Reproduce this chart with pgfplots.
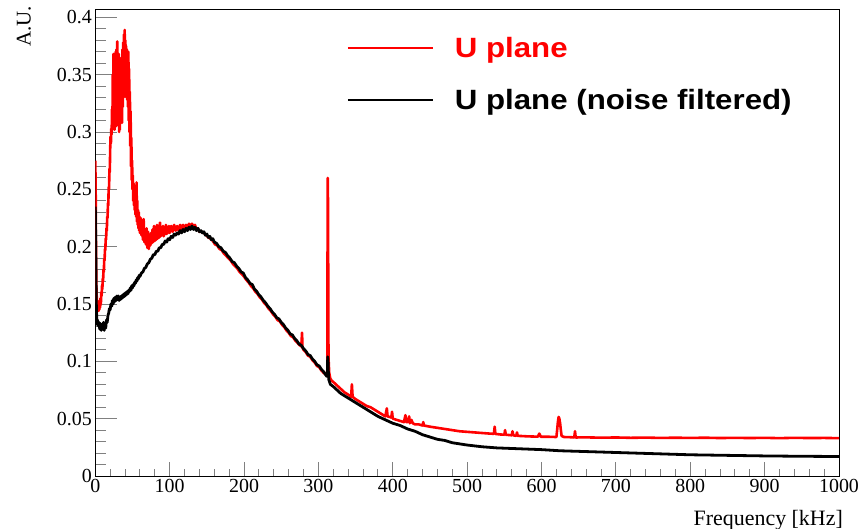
\documentclass[border=0pt]{standalone}
\usepackage{fontspec}
\setmainfont{Liberation Serif}
\newfontfamily\legfont[FakeStretch=1.12]{Liberation Sans}
\usepackage{pgfplots}
\pgfplotsset{compat=1.18}
\begin{document}
\begin{tikzpicture}
\begin{axis}[
  scale only axis, width=743.7bp, height=466.7bp,
  xmin=0, xmax=1000, ymin=0, ymax=0.407,
  axis line style={line width=1bp},
  xtick distance=100, ytick distance=0.05,
  minor x tick num=4, minor y tick num=4,
  tick align=inside, xtick pos=bottom, ytick pos=left,
  xtick style={line width=0.9bp, /pgfplots/major tick length=14bp, /pgfplots/minor tick length=7bp},
  ytick style={line width=0.9bp, /pgfplots/major tick length=22bp, /pgfplots/minor tick length=11bp},
  /pgf/number format/assume math mode=true,
  /pgf/number format/set thousands separator={},
  scaled y ticks=false,
  yticklabel style={/pgf/number format/fixed, /pgf/number format/precision=2, font=\rmfamily\fontsize{20}{24}\selectfont},
  xticklabel style={font=\rmfamily\fontsize{20}{24}\selectfont},
  xlabel={Frequency [kHz]},
  xlabel style={at={(axis description cs:1.0054,-0.1071)}, anchor=base east, inner sep=0pt, font=\rmfamily\fontsize{22}{26}\selectfont},
  ylabel={A.U.},
  ylabel style={at={(axis description cs:-0.0959,1.007)}, anchor=east, inner sep=0pt, font=\rmfamily\fontsize{21}{25}\selectfont},
  legend style={at={(axis description cs:0.338,0.9407)}, anchor=north west, draw=none, fill=none, inner sep=0pt, outer sep=0pt,
    font=\legfont\bfseries\fontsize{28}{32}\selectfont, row sep=30.5bp, /tikz/column sep=21bp, nodes={inner sep=0pt}},
  legend image code/.code={\draw[#1, line width=2.2bp] (0bp,0bp) -- (85bp,0bp);},
  legend cell align=left,
]
\coordinate (bl) at (rel axis cs:0,0);
\coordinate (tr) at (rel axis cs:1,1);
% red: U plane
\addplot[red, line width=2.6bp, line join=round] coordinates {
(0,0.275) (0.5,0.25) (1,0.19) (1.5,0.165) (2,0.155) (2.5,0.150) (3,0.153) (3.5,0.146) (4,0.150) (4.5,0.144)
(5,0.149) (5.5,0.145) (6,0.152) (6.5,0.147) (7,0.155) (7.5,0.150) (8,0.160) (8.5,0.157) (9,0.166) (9.5,0.163)
(10,0.172) (10.5,0.170) (11,0.180) (11.5,0.178) (12,0.189) (12.5,0.188) (13,0.198) (13.5,0.197) (14,0.207) (14.5,0.206)
(15,0.216) (15.5,0.214) (16,0.226) (16.5,0.225) (17,0.238) (17.5,0.236) (18,0.252) (18.5,0.250) (19,0.268) (19.5,0.265)
(20,0.285) (20.5,0.296) (21,0.290) (21.5,0.303) (22,0.298) (22.5,0.320) (23,0.305) (23.5,0.350) (24,0.315) (24.5,0.368)
(25,0.310) (25.5,0.355) (26,0.302) (26.5,0.362) (27,0.318) (27.5,0.370) (28,0.305) (28.5,0.372) (29,0.312) (29.5,0.379)
(30,0.318) (30.5,0.360) (31,0.306) (31.5,0.368) (32,0.300) (32.5,0.352) (33,0.302) (33.5,0.345) (34,0.310) (34.5,0.358)
(35,0.315) (35.5,0.365) (36,0.308) (36.5,0.372) (37,0.322) (37.5,0.378) (38,0.330) (38.5,0.385) (39,0.340) (39.5,0.389)
(40,0.332) (40.5,0.380) (41,0.336) (41.5,0.375) (42,0.330) (42.5,0.372) (43,0.328) (43.5,0.368) (44,0.322) (44.5,0.370)
(45,0.310) (45.5,0.355) (46,0.300) (46.5,0.335) (47,0.288) (47.5,0.318) (48,0.270) (48.5,0.295) (49,0.258) (49.5,0.275)
(50,0.250) (50.5,0.262) (51,0.240) (51.5,0.255) (52,0.236) (52.5,0.250) (53,0.232) (53.5,0.245) (54,0.228) (54.5,0.252)
(55,0.226) (55.5,0.256) (56,0.222) (56.5,0.240) (57,0.219) (57.5,0.232) (58,0.216) (58.5,0.230) (59,0.214) (59.5,0.226)
(60,0.212) (61,0.225) (62,0.210) (63,0.222) (64,0.206) (65,0.224) (66,0.204) (67,0.214) (68,0.202) (69,0.216)
(70,0.199) (71,0.213) (72,0.198) (73,0.210) (74,0.201) (75,0.212) (76,0.203) (77,0.215) (78,0.204) (79,0.218)
(80,0.205) (81,0.214) (82,0.206) (83,0.219) (84,0.207) (85,0.216) (86,0.208) (87,0.221) (88,0.209) (89,0.217)
(90,0.210) (91,0.218) (92,0.209) (93,0.217) (94,0.211) (95,0.219) (96,0.211) (97,0.217) (98,0.212) (99,0.218)
(100,0.212) (102,0.218) (104,0.213) (106,0.219) (108,0.214) (110,0.218) (112,0.214) (114,0.219) (116,0.215) (118,0.219)
(120,0.215) (122,0.219) (124,0.216) (126,0.220) (128,0.217) (130,0.220) (132,0.217) (134,0.219) (136,0.215) (138,0.216)
(140,0.213) (143,0.213) (146,0.212) (149,0.210) (152,0.208) (155,0.207) (158,0.205) (161,0.202) (164,0.201) (167,0.198)
(170,0.197) (173,0.194) (176,0.192) (179,0.190) (182,0.188) (185,0.185) (188,0.183) (191,0.181) (194,0.178) (197,0.176)
(200,0.174) (203,0.171) (206,0.169) (209,0.166) (212,0.164) (215,0.161) (218,0.159) (221,0.156) (224,0.154) (227,0.151)
(230,0.149) (233,0.146) (236,0.144) (239,0.141) (242,0.139) (245,0.136) (248,0.135) (251,0.132) (254,0.130) (257,0.127)
(260,0.125) (263,0.122) (266,0.121) (269,0.118) (272,0.116) (275,0.114) (277,0.113) (278,0.125) (278.6,0.112) (280,0.110)
(283,0.108) (286,0.105) (289,0.104) (292,0.101) (295,0.099) (298,0.096) (301,0.095) (304,0.092) (307,0.090) (309,0.089)
(311,0.088) (312,0.092) (312.3,0.200) (312.6,0.260) (313,0.230) (313.4,0.120) (313.8,0.100) (314.5,0.090) (316,0.085) (318,0.083)
(320,0.082) (325,0.079) (330,0.076) (335,0.073) (340,0.071) (344,0.069) (345,0.080) (346,0.069) (350,0.067) (355,0.065)
(360,0.063) (365,0.061) (370,0.060) (375,0.058) (380,0.056) (385,0.054) (390,0.052) (392,0.059) (393,0.052) (398,0.051)
(399,0.056) (400,0.050) (405,0.049) (410,0.048) (415,0.047) (417,0.053) (418,0.047) (420,0.047) (422,0.052) (423,0.046)
(425,0.049) (427,0.046) (430,0.045) (435,0.045) (440,0.044) (441,0.047) (442,0.044) (450,0.043) (460,0.042) (470,0.041)
(480,0.040) (490,0.039) (500,0.0385) (510,0.038) (520,0.0375) (530,0.037) (536,0.0368) (537,0.043) (538,0.0367) (545,0.0362)
(550,0.036) (551,0.040) (552,0.036) (560,0.0355) (561,0.039) (562,0.0355) (566,0.035) (567,0.038) (568,0.035) (575,0.0348)
(580,0.0346) (585,0.0345) (595,0.0343) (597,0.037) (599,0.0342) (610,0.0342) (620,0.034) (621,0.040) (622,0.047) (623,0.0515)
(624,0.050) (625,0.046) (626,0.040) (627,0.035) (630,0.034) (640,0.0338) (644,0.0336) (645,0.039) (646,0.0336) (660,0.0337)
(680,0.0334) (700,0.0336) (720,0.0333) (740,0.0335) (760,0.0332) (780,0.0334) (800,0.0332) (820,0.0334) (840,0.0331) (860,0.0333)
(880,0.0331) (900,0.0333) (920,0.0330) (940,0.0333) (960,0.0331) (980,0.0332) (1000,0.0330)
};
\addlegendentry{\textcolor{red}{U plane}}
% black: U plane (noise filtered)
\addplot[black, line width=2.8bp, line join=round] coordinates {
(0,0.235) (0.5,0.21) (1,0.17) (1.5,0.145) (2,0.138) (2.5,0.132) (3,0.136) (4,0.131) (5,0.134) (6,0.128)
(7,0.133) (8,0.127) (9,0.131) (10,0.128) (11,0.134) (12,0.127) (13,0.132) (14,0.129) (15,0.136) (16,0.134)
(17,0.140) (18,0.142) (19,0.146) (20,0.145) (21,0.150) (22,0.148) (23,0.153) (24,0.150) (25,0.155) (26,0.152)
(27,0.156) (28,0.153) (29,0.157) (30,0.154) (31,0.157) (32,0.153) (33,0.156) (34,0.154) (35,0.157) (36,0.155)
(37,0.158) (38,0.156) (39,0.159) (40,0.157) (41,0.160) (42,0.158) (43,0.161) (44,0.159) (45,0.162) (46,0.161)
(47,0.164) (48,0.162) (49,0.166) (50,0.164) (51,0.167) (52,0.166) (53,0.169) (54,0.168) (55,0.171) (56,0.170)
(57,0.173) (58,0.172) (59,0.175) (60,0.174) (62,0.177) (64,0.178) (66,0.181) (68,0.182) (70,0.185) (72,0.186)
(74,0.189) (76,0.190) (78,0.193) (80,0.193) (82,0.196) (84,0.196) (86,0.199) (88,0.199) (90,0.202) (92,0.202)
(94,0.205) (96,0.204) (98,0.207) (100,0.206) (102,0.209) (104,0.208) (106,0.211) (108,0.210) (110,0.212) (112,0.211)
(114,0.214) (116,0.212) (118,0.215) (120,0.213) (122,0.216) (124,0.214) (126,0.217) (128,0.215) (130,0.218) (132,0.215)
(134,0.217) (136,0.214) (138,0.216) (140,0.213) (142,0.214) (144,0.212) (146,0.213) (148,0.210) (150,0.211) (152,0.208)
(154,0.209) (156,0.206) (158,0.207) (160,0.204) (163,0.203) (166,0.200) (169,0.199) (172,0.196) (175,0.195) (178,0.192)
(181,0.190) (184,0.187) (187,0.186) (190,0.183) (193,0.181) (196,0.178) (199,0.177) (202,0.173) (205,0.171) (208,0.168)
(211,0.167) (214,0.163) (217,0.161) (220,0.158) (223,0.156) (226,0.153) (229,0.151) (232,0.148) (235,0.146) (238,0.143)
(241,0.141) (244,0.138) (247,0.137) (250,0.134) (253,0.132) (256,0.129) (259,0.127) (262,0.124) (265,0.123) (268,0.120)
(271,0.118) (274,0.115) (277,0.114) (280,0.111) (283,0.109) (286,0.106) (289,0.105) (292,0.102) (295,0.100) (298,0.097)
(301,0.096) (304,0.093) (307,0.091) (310,0.088) (311,0.087) (312,0.087) (312.5,0.104) (313,0.100) (313.5,0.088) (314,0.084)
(316,0.080) (320,0.078) (325,0.075) (330,0.072) (335,0.070) (340,0.068) (350,0.064) (360,0.060) (370,0.056) (380,0.052)
(390,0.049) (400,0.046) (410,0.044) (420,0.041) (430,0.039) (440,0.036) (450,0.034) (460,0.032) (470,0.031) (480,0.029)
(500,0.027) (520,0.0255) (540,0.0245) (560,0.024) (580,0.0235) (600,0.023) (625,0.022) (650,0.0215) (675,0.021) (700,0.0205)
(725,0.020) (750,0.0195) (775,0.019) (800,0.0185) (850,0.018) (900,0.0175) (950,0.0172) (1000,0.017)
};
\addlegendentry{U plane (noise filtered)}
\end{axis}
\pgfresetboundingbox
\path[use as bounding box] ([shift={(-95.3bp,-53bp)}]bl) rectangle ([shift={(24bp,9.3bp)}]tr);
\end{tikzpicture}
\end{document}
